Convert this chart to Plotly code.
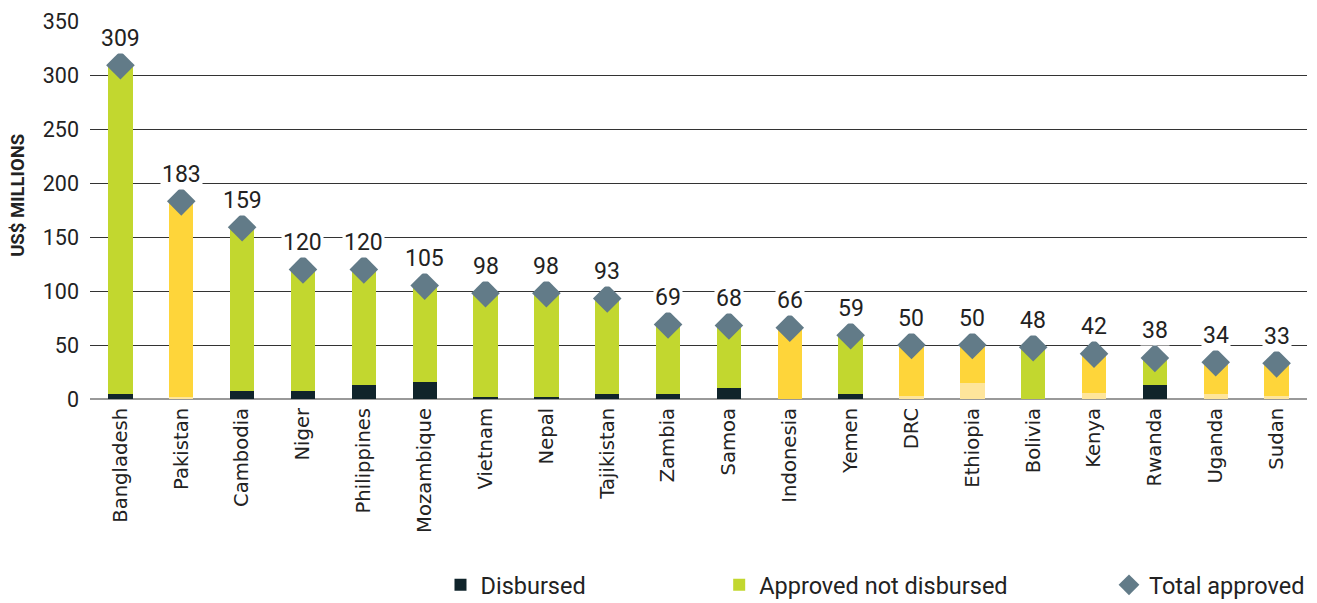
import plotly.graph_objects as go

countries = ["Bangladesh", "Pakistan", "Cambodia", "Niger", "Philippines", "Mozambique",
             "Vietnam", "Nepal", "Tajikistan", "Zambia", "Samoa", "Indonesia", "Yemen",
             "DRC", "Ethiopia", "Bolivia", "Kenya", "Rwanda", "Uganda", "Sudan"]
total_approved = [309, 183, 159, 120, 120, 105, 98, 98, 93, 69, 68, 66, 59, 50, 50, 48, 42, 38, 34, 33]
disbursed = [5, 1.5, 7.5, 7.5, 13, 16, 2, 2, 5, 5, 10, 0, 5, 3, 15, 0, 6, 13, 5, 3]
# funding group: "A" = green/dark colouring, "B" = yellow colouring
group = ["A", "B", "A", "A", "A", "A", "A", "A", "A", "A", "A", "B", "A", "B", "B", "A", "B", "A", "B", "B"]
y_ticks = [0, 50, 100, 150, 200, 250, 300, 350]

approved_not_disbursed = [t - d for t, d in zip(total_approved, disbursed)]

DARK = "#10242b"
GREEN = "#c2d72f"
YELLOW = "#fed53a"
LIGHT_YELLOW = "#fee59b"
DIAMOND = "#627b88"

disb_colors = [DARK if g == "A" else LIGHT_YELLOW for g in group]
appr_colors = [GREEN if g == "A" else YELLOW for g in group]

FONT = "Roboto"

fig = go.Figure()
fig.add_trace(go.Bar(x=countries, y=disbursed, name="Disbursed",
                     marker=dict(color=disb_colors, line=dict(width=0)),
                     legend="legend"))
fig.add_trace(go.Bar(x=countries, y=approved_not_disbursed, name="Approved not disbursed",
                     marker=dict(color=appr_colors, line=dict(width=0)),
                     legend="legend2"))
fig.add_trace(go.Scatter(x=countries, y=total_approved, name="Total approved", mode="markers",
                         marker=dict(symbol="diamond", size=22, color=DIAMOND),
                         legend="legend3"))

for c, t in zip(countries, total_approved):
    fig.add_annotation(x=c, y=t, text=str(t), showarrow=False, yshift=27,
                       bgcolor="white", borderpad=1,
                       font=dict(family=FONT, size=23, color="#222"))

fig.add_annotation(xref="paper", yref="paper", x=-0.0592, y=0.54, text="<b>US$ MILLIONS</b>",
                   textangle=-90, showarrow=False, xanchor="center", yanchor="middle",
                   font=dict(family=FONT, size=18.5, color="#222"))

leg_common = dict(orientation="h", yref="container", yanchor="middle", y=1 - 585 / 603,
                  xanchor="left", font=dict(family=FONT, size=23.5, color="#222"),
                  bgcolor="rgba(0,0,0,0)", borderwidth=0)

fig.update_layout(
    width=1317, height=603,
    margin=dict(l=90, r=10, t=21, b=204),
    paper_bgcolor="white", plot_bgcolor="white",
    barmode="stack", bargap=0.6,
    showlegend=True,
    legend=dict(x=0.288, **leg_common),
    legend2=dict(x=0.517, **leg_common),
    legend3=dict(x=0.8373, **leg_common),
    yaxis=dict(range=[0, 350], tickvals=y_ticks, showgrid=True, gridcolor="#333",
               gridwidth=1, zeroline=True, zerolinecolor="#999", zerolinewidth=2,
               ticklabelstandoff=10, automargin=False,
               tickfont=dict(family=FONT, size=21.5, color="#222")),
    xaxis=dict(range=[-0.5, len(countries) - 0.5], tickangle=-90, showgrid=False,
               showline=False, automargin=False, ticklabelstandoff=4,
               tickfont=dict(family="DejaVu Sans", size=19.6, color="#222")),
)

fig.write_html("out.html", config={"displayModeBar": False},
               post_script="document.body.style.margin='0';")
